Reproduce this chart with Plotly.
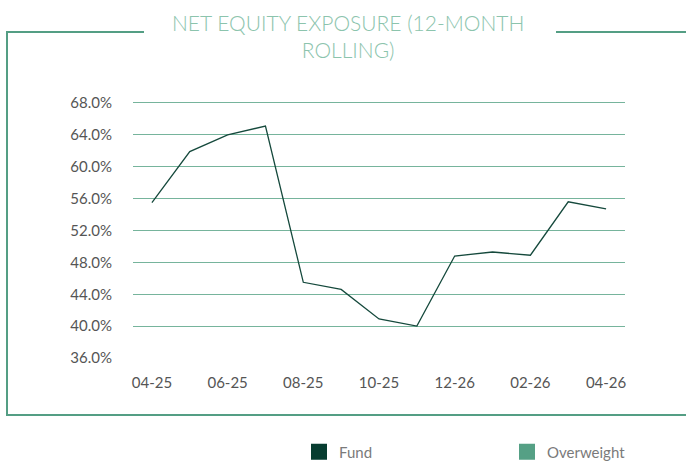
import plotly.graph_objects as go

months = ["04-25", "05-25", "06-25", "07-25", "08-25", "09-25", "10-25",
          "11-25", "12-26", "01-26", "02-26", "03-26", "04-26"]
fund = [55.5, 61.9, 64.0, 65.1, 45.5, 44.6, 40.9, 40.0, 48.8, 49.3, 48.9, 55.6, 54.7]
tick_months = ["04-25", "06-25", "08-25", "10-25", "12-26", "02-26", "04-26"]
y_ticks = [36, 40, 44, 48, 52, 56, 60, 64, 68]
grid_ticks = [40, 44, 48, 52, 56, 60, 64, 68]
title_text = "NET EQUITY EXPOSURE (12-MONTH<br>ROLLING)"
legend_names = ["Fund", "Overweight"]
legend_colors = ["#073d30", "#55a085"]

W, H = 686, 461
Y_RANGE = [36, 68.5]
PX_PER_UNIT = 255 / 32
L, R, B = 133, 625, 358
T = round(B - (Y_RANGE[1] - Y_RANGE[0]) * PX_PER_UNIT)

def px(x):
    return (x - L) / (R - L)

def py(y):
    return (B - y) / (B - T)

fig = go.Figure()
fig.add_trace(go.Scatter(x=months, y=fund, mode="lines",
                         line=dict(color="#15493c", width=1.3),
                         showlegend=False, yaxis="y"))
for name, col in zip(legend_names, legend_colors):
    fig.add_trace(go.Scatter(x=[None], y=[None], mode="markers", name=name,
                             marker=dict(symbol="square", size=16, color=col),
                             showlegend=True))
# invisible trace for grid axis
fig.add_trace(go.Scatter(x=months, y=fund, mode="lines", yaxis="y2",
                         line=dict(width=0), opacity=0, showlegend=False,
                         hoverinfo="skip"))

border = "#549e84"
shapes = [
    dict(type="line", xref="paper", yref="paper", x0=px(7), x1=px(144), y0=py(32), y1=py(32),
         line=dict(color=border, width=2)),
    dict(type="line", xref="paper", yref="paper", x0=px(556), x1=px(700), y0=py(32), y1=py(32),
         line=dict(color=border, width=2)),
    dict(type="line", xref="paper", yref="paper", x0=px(7), x1=px(7), y0=py(31), y1=py(416),
         line=dict(color=border, width=2)),
    dict(type="line", xref="paper", yref="paper", x0=px(6), x1=px(700), y0=py(415), y1=py(415),
         line=dict(color=border, width=2)),
]

fig.update_layout(
    width=W, height=H,
    margin=dict(l=L, r=W - R, t=T, b=H - B, pad=0, autoexpand=False),
    paper_bgcolor="white", plot_bgcolor="white",
    font=dict(family="Lato", color="#555555", size=15),
    xaxis=dict(type="category", categoryorder="array", categoryarray=months,
               range=[-0.5, len(months) - 0.5],
               tickvals=tick_months, ticktext=tick_months,
               showgrid=False, zeroline=False, showline=False, ticks="",
               tickfont=dict(size=15, color="#555555"), ticklabelstandoff=14),
    yaxis=dict(range=Y_RANGE, tickvals=y_ticks,
               ticktext=[f"{v:.1f}%" for v in y_ticks],
               showgrid=False, zeroline=False, showline=False, ticks="",
               tickfont=dict(size=15, color="#555555"), ticklabelstandoff=20),
    yaxis2=dict(range=Y_RANGE, tickvals=grid_ticks, overlaying="y",
                showgrid=True, gridcolor="#76b49c", gridwidth=1,
                showticklabels=False, zeroline=False, showline=False, ticks=""),
    shapes=shapes,
    annotations=[dict(text=title_text, xref="paper", yref="paper",
                      x=px(348), y=py(8), xanchor="center", yanchor="top",
                      showarrow=False, align="center",
                      font=dict(family="Lato", size=21, color="#8cc4ad", weight=300))],
    legend=dict(orientation="h", xref="container", yref="container",
                x=299 / W, y=1 - 452 / H, xanchor="left", yanchor="middle",
                font=dict(size=15, color="#7a7a7a"), entrywidth=163, entrywidthmode="pixels",
                itemsizing="trace", bgcolor="rgba(0,0,0,0)"),
    hovermode=False,
)

fig.write_html("out.html", post_script="document.body.style.margin='0';",
               config={"displayModeBar": False})
